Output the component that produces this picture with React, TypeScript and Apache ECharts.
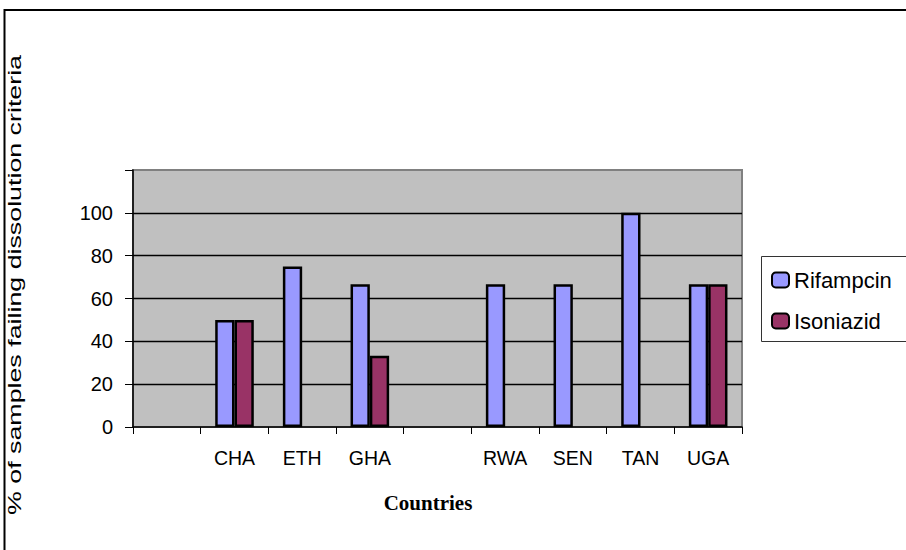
import React, { useEffect, useRef } from "react";
import * as echarts from "echarts";

const categories = ["", "CHA", "ETH", "GHA", "", "RWA", "SEN", "TAN", "UGA"];
const rifampcin = [null, 50, 75, 66.7, null, 66.7, 66.7, 100, 66.7];
const isoniazid = [null, 50, null, 33.3, null, null, null, null, 66.7];
const seriesNames = ["Rifampcin", "Isoniazid"];
const yTitle = "% of samples failing dissolution criteria";
const xTitle = "Countries";

export default function App() {
  const ref = useRef<HTMLDivElement>(null);
  useEffect(() => {
    if (!ref.current) return;
    const chart = echarts.init(ref.current, null, { renderer: "svg" });
    const font = "Liberation Sans, Arial, sans-serif";
    chart.setOption({
      animation: false,
      backgroundColor: "#ffffff",
      grid: {
        left: 133,
        top: 170,
        width: 609,
        height: 257,
        show: true,
        backgroundColor: "#c0c0c0",
        borderColor: "#808080",
        borderWidth: 2,
      },
      xAxis: {
        type: "category",
        data: categories,
        boundaryGap: true,
        axisLine: { show: true, lineStyle: { color: "#000", width: 1.5 } },
        axisTick: { show: true, interval: 0, length: 7, lineStyle: { color: "#000", width: 1 } },
        axisLabel: { interval: 0, margin: 21, color: "#000", fontFamily: font, fontSize: 19.5 },
        splitLine: { show: false },
      },
      yAxis: {
        type: "value",
        min: 0,
        max: 120,
        interval: 20,
        axisLine: { show: true, lineStyle: { color: "#000", width: 1.5 } },
        axisTick: { show: true, length: 8, lineStyle: { color: "#000", width: 1 } },
        axisLabel: {
          margin: 20,
          color: "#000",
          fontFamily: font,
          fontSize: 20,
          formatter: (v: number) => (v === 120 ? "" : String(v)),
        },
        splitLine: {
          show: true,
          lineStyle: { color: "#000", width: 1.3 },
          showMaxLine: false,
          showMinLine: false,
        },
      },
      legend: {
        orient: "vertical",
        left: 771,
        top: 269,
        itemWidth: 17,
        itemHeight: 15,
        itemGap: 19,
        padding: [0, 0, 0, 0],
        textStyle: { fontFamily: font, fontSize: 22, color: "#000" },
        data: seriesNames,
      },
      series: [
        {
          name: seriesNames[0],
          type: "bar",
          data: rifampcin,
          barWidth: 19.3,
          barGap: "0%",
          itemStyle: { color: "#9999ff", borderColor: "#000", borderWidth: 2.5 },
        },
        {
          name: seriesNames[1],
          type: "bar",
          data: isoniazid,
          barWidth: 19.3,
          barGap: "0%",
          itemStyle: { color: "#993366", borderColor: "#000", borderWidth: 2.5 },
        },
      ],
      graphic: [
        {
          type: "polyline",
          shape: { points: [[4.5, 560], [4.5, 10], [920, 10]] },
          style: { stroke: "#000", lineWidth: 2, fill: null },
          silent: true,
        },
        {
          type: "rect",
          shape: { x: 761.5, y: 256.5, width: 200, height: 85 },
          style: { stroke: "#333", lineWidth: 1, fill: "rgba(255,255,255,0)" },
          silent: true,
          z: -1,
        },
        {
          type: "text",
          x: 14,
          y: 285,
          rotation: Math.PI / 2,
          scaleX: 1.41,
          style: {
            text: yTitle,
            font: `19px ${font}`,
            fill: "#000",
            textAlign: "center",
            textVerticalAlign: "middle",
          },
          silent: true,
        },
        {
          type: "text",
          x: 428,
          y: 503,
          style: {
            text: xTitle,
            font: `bold 21px "Liberation Serif", "Times New Roman", serif`,
            fill: "#000",
            textAlign: "center",
            textVerticalAlign: "middle",
          },
          silent: true,
        },
      ],
    });
    return () => chart.dispose();
  }, []);
  return (
    <div
      ref={ref}
      style={{ position: "fixed", left: 0, top: 0, width: 906, height: 550, background: "#fff" }}
    />
  );
}
